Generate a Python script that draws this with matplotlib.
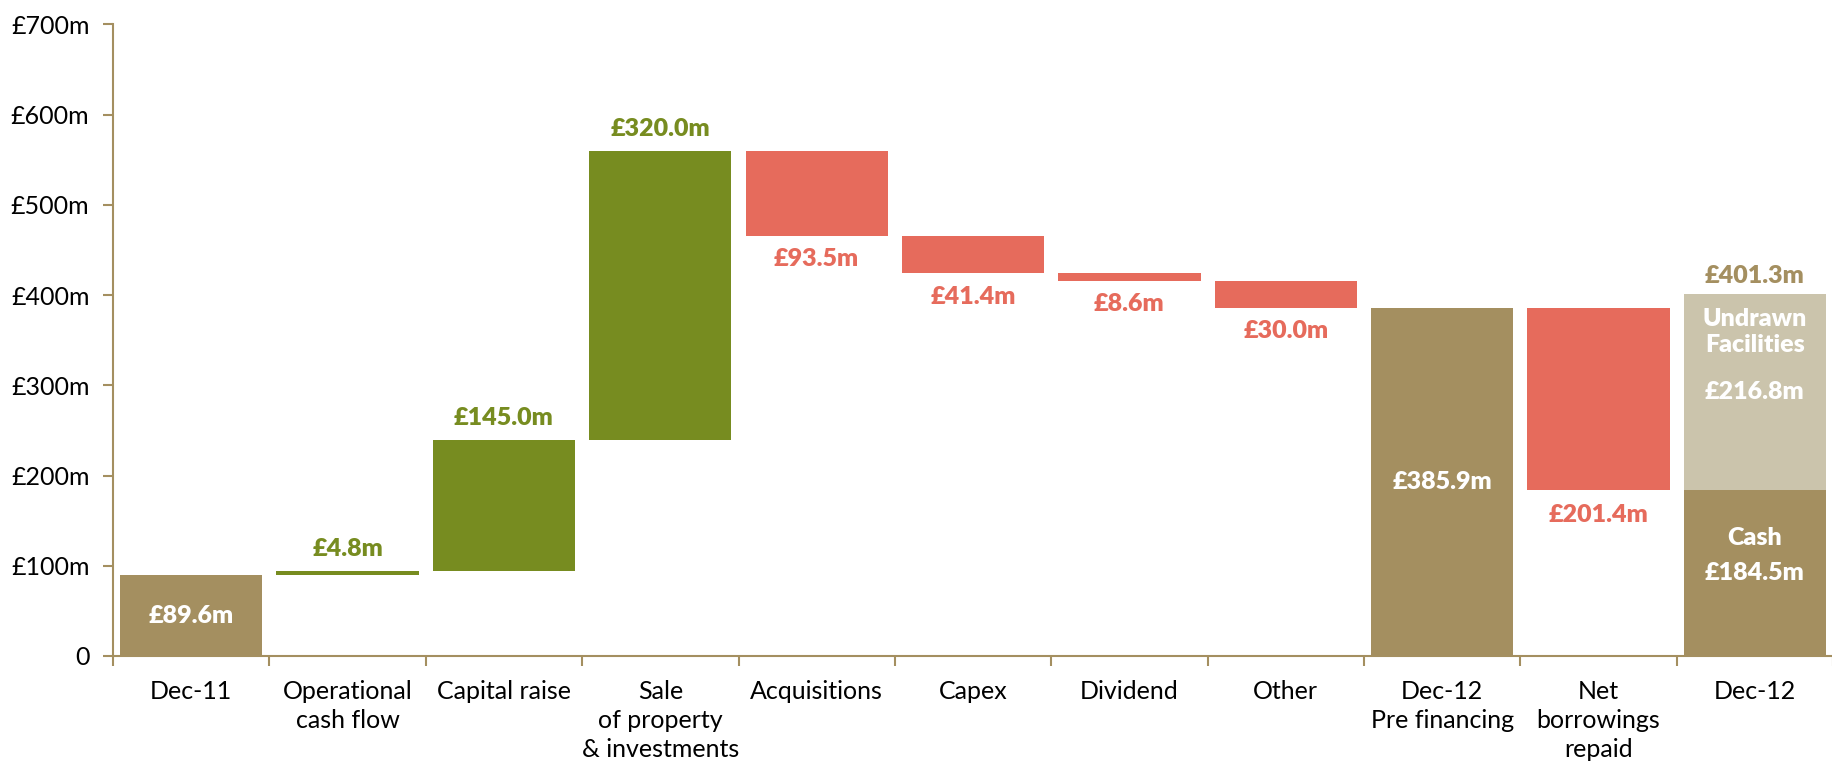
import matplotlib.pyplot as plt
import numpy as np

# Category labels and values (GBP m)
categories = ['Dec-11', 'Operational\ncash flow', 'Capital raise', 'Sale\nof property\n& investments',
              'Acquisitions', 'Capex', 'Dividend', 'Other', 'Dec-12\nPre financing',
              'Net\nborrowings\nrepaid', 'Dec-12']
opening = 89.6
moves = [4.8, 145.0, 320.0, -93.5, -41.4, -8.6, -30.0]
pre_financing = 385.9
net_borrowings = -201.4
cash = 184.5
undrawn = 216.8
total_liquidity = 401.3

yticks = [0, 100, 200, 300, 400, 500, 600, 700]
ytick_labels = ['0', '£100m', '£200m', '£300m', '£400m', '£500m', '£600m', '£700m']

gold = '#A48F60'
green = '#778C20'
red = '#E66B5C'
light = '#CBC4AC'

plt.rcParams['font.family'] = ['Lato', 'DejaVu Sans']
fs = 18  # value label size

fig = plt.figure(figsize=(18.33, 7.64), dpi=100)
ax = fig.add_axes([0.0617, 0.1414, 0.9383, 0.8266])

w = 0.91
x = np.arange(len(categories))

# opening bar
ax.bar(x[0], opening, w, color=gold)
ax.text(x[0], opening / 2, '£%.1fm' % opening, ha='center', va='center',
        color='white', fontsize=fs, fontweight='heavy')

# movements
level = opening
for i, m in enumerate(moves):
    xi = x[i + 1]
    bottom = level if m > 0 else level + m
    ax.bar(xi, abs(m), w, bottom=bottom, color=green if m > 0 else red)
    if m > 0:
        ax.annotate('£%.1fm' % m, (xi, level + m), xytext=(0, 16), textcoords='offset points',
                    ha='center', va='center', color=green, fontsize=fs, fontweight='heavy')
    else:
        ax.annotate('£%.1fm' % -m, (xi, level + m), xytext=(0, -17), textcoords='offset points',
                    ha='center', va='center', color=red, fontsize=fs, fontweight='heavy')
    level += m

# pre financing
ax.bar(x[8], pre_financing, w, color=gold)
ax.text(x[8], pre_financing / 2, '£%.1fm' % pre_financing, ha='center', va='center',
        color='white', fontsize=fs, fontweight='heavy')

# net borrowings repaid
ax.bar(x[9], -net_borrowings, w, bottom=pre_financing + net_borrowings, color=red)
ax.annotate('£%.1fm' % -net_borrowings, (x[9], pre_financing + net_borrowings), xytext=(0, -18),
            textcoords='offset points', ha='center', va='center', color=red, fontsize=fs,
            fontweight='heavy')

# Dec-12 stacked
ax.bar(x[10], cash, w, color=gold)
ax.bar(x[10], undrawn, w, bottom=cash, color=light)
ax.text(x[10], cash / 2, '£%.1fm' % cash, ha='center', va='center',
        color='white', fontsize=fs, fontweight='heavy')
ax.annotate('Cash', (x[10], cash / 2), xytext=(0, 25), textcoords='offset points',
            ha='center', va='center', color='white', fontsize=fs, fontweight='heavy')
ax.text(x[10], cash + undrawn / 2, '£%.1fm' % undrawn, ha='center', va='center',
        color='white', fontsize=fs, fontweight='heavy')
ax.annotate('Undrawn\nFacilities', (x[10], cash + undrawn / 2), xytext=(0, 43),
            textcoords='offset points', ha='center', va='center', color='white',
            fontsize=fs, fontweight='heavy', linespacing=1.2)
ax.annotate('£%.1fm' % total_liquidity, (x[10], total_liquidity), xytext=(0, 13),
            textcoords='offset points', ha='center', va='center', color=gold,
            fontsize=fs, fontweight='heavy')

ax.set_xlim(-0.5, len(categories) - 0.5)
ax.set_ylim(0, 700)
ax.set_yticks(yticks)
ax.set_yticklabels(ytick_labels, fontsize=18)
ax.set_xticks(x)
ax.set_xticklabels(categories, fontsize=18, va='top', linespacing=1.32)
ax.set_xticks(np.arange(-0.5, len(categories), 1), minor=True)
ax.tick_params(axis='x', which='major', length=0, pad=17)
ax.tick_params(axis='x', which='minor', length=7, width=1.5, color=gold, direction='out')
ax.tick_params(axis='y', length=7, width=1.5, color=gold, direction='out', pad=10)

for s in ['top', 'right']:
    ax.spines[s].set_visible(False)
for s in ['left', 'bottom']:
    ax.spines[s].set_color(gold)
    ax.spines[s].set_linewidth(1.5)

fig.savefig('out.png', dpi=100)
